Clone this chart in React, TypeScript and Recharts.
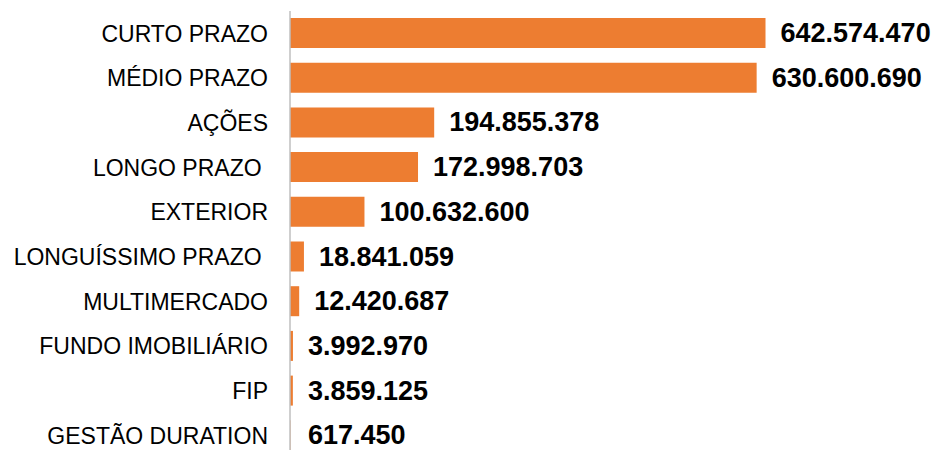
import { Bar, BarChart, LabelList, XAxis, YAxis } from "recharts"

// Categories and values (top to bottom)
const CATEGORIES = [
  "CURTO PRAZO",
  "MÉDIO PRAZO",
  "AÇÕES",
  "LONGO PRAZO\u00a0",
  "EXTERIOR",
  "LONGUÍSSIMO PRAZO\u00a0",
  "MULTIMERCADO",
  "FUNDO IMOBILIÁRIO",
  "FIP",
  "GESTÃO DURATION",
]

const VALUES = [
  642574470, 630600690, 194855378, 172998703, 100632600, 18841059, 12420687,
  3992970, 3859125, 617450,
]

const X_MAX = 700000000
const ORANGE = "#ED7D31"

const data = CATEGORIES.map((name, i) => ({ name, value: VALUES[i] }))

const fmt = (v: number) => v.toLocaleString("pt-BR")

function ValueLabel(props: any) {
  const { x, y, width, height, value } = props
  const end = Number(x) + Number(width)
  const lx = Math.max(end + 15, 308)
  return (
    <text
      x={lx}
      y={Number(y) + Number(height) / 2}
      dominantBaseline="central"
      fontFamily="'Liberation Sans', Arial, sans-serif"
      fontSize={27}
      fontWeight="bold"
      fill="#000"
    >
      {fmt(Number(value))}
    </text>
  )
}

export default function App() {
  return (
    <div
      style={{
        position: "absolute",
        left: 0,
        top: 0,
        width: 944,
        height: 450,
        overflow: "hidden",
        background: "#fff",
      }}
    >
      <BarChart
        width={944}
        height={458}
        data={data}
        layout="vertical"
        margin={{ top: 11, right: 136, bottom: 0, left: 0 }}
        barSize={30}
      >
        <XAxis type="number" domain={[0, X_MAX]} hide />
        <YAxis
          type="category"
          dataKey="name"
          width={290}
          tickLine={false}
          tickSize={0}
          tickMargin={22}
          axisLine={{ stroke: "#BFBFBF", strokeWidth: 1.5 }}
          tick={{
            fill: "#000",
            fontSize: 23,
            fontFamily: "'Liberation Sans', Arial, sans-serif",
          }}
          interval={0}
        />
        <Bar dataKey="value" fill={ORANGE} isAnimationActive={false}>
          <LabelList dataKey="value" content={<ValueLabel />} />
        </Bar>
      </BarChart>
    </div>
  )
}
